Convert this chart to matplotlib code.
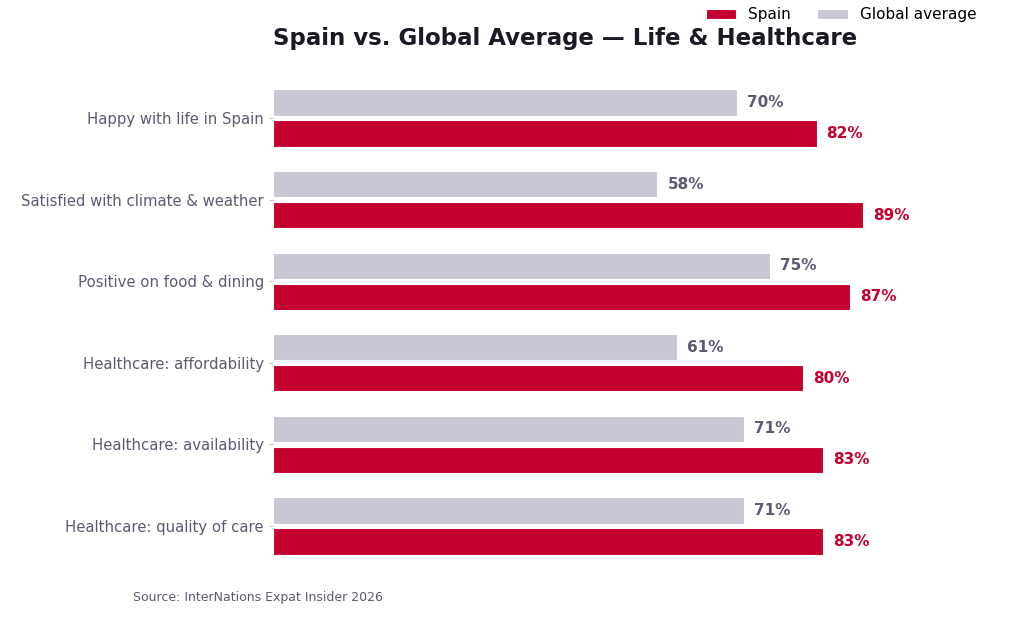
import numpy as np
import matplotlib
matplotlib.use("Agg")
import matplotlib.pyplot as plt

plt.rcParams["font.family"] = ["DejaVu Sans"]

# data
categories = [
    "Happy with life in Spain",
    "Satisfied with climate & weather",
    "Positive on food & dining",
    "Healthcare: affordability",
    "Healthcare: availability",
    "Healthcare: quality of care",
]
spain = [82, 89, 87, 80, 83, 83]
global_avg = [70, 58, 75, 61, 71, 71]

RED = "#C4002F"
GREY = "#C8C7D3"
TEXT = "#5B5B73"

fig = plt.figure(figsize=(10.24, 6.31), dpi=100)
ax = fig.add_axes([0.2666, 0.085, 0.6914, 0.8095])

y = np.arange(len(categories))
h = 0.32
off = 0.19
ax.barh(y - off, global_avg, height=h, color=GREY, edgecolor="white", linewidth=0.8, label="Global average")
ax.barh(y + off, spain, height=h, color=RED, edgecolor="white", linewidth=0.8, label="Spain")

for i in range(len(categories)):
    ax.text(global_avg[i] + 1.5, y[i] - off, f"{global_avg[i]}%", va="center", ha="left",
            fontsize=11, fontweight="bold", color=TEXT)
    ax.text(spain[i] + 1.5, y[i] + off, f"{spain[i]}%", va="center", ha="left",
            fontsize=11, fontweight="bold", color=RED)

ax.set_yticks(y)
ax.set_yticklabels(categories, fontsize=10.7, color=TEXT)
ax.tick_params(axis="y", length=3, color="#C8C7D3")
ax.set_xticks([])
ax.set_xlim(0, 106.8)
ax.set_ylim(5.63, -0.63)
for s in ax.spines.values():
    s.set_visible(False)

fig.text(0.2666, 1 - 38 / 631, "Spain vs. Global Average — Life & Healthcare",
         fontsize=16.5, fontweight="bold", color="#1A1A24", ha="left", va="center")

handles, labels = ax.get_legend_handles_labels()
fig.legend(handles[::-1], labels[::-1], loc="upper right", bbox_to_anchor=(0.967, 1.01),
           ncol=2, frameon=False, fontsize=11, handlelength=2.0, columnspacing=1.7)

fig.text(133 / 1024, 1 - 598 / 631, "Source: InterNations Expat Insider 2026",
         fontsize=9, color=TEXT, ha="left", va="center")

fig.savefig("out.png", dpi=100)
